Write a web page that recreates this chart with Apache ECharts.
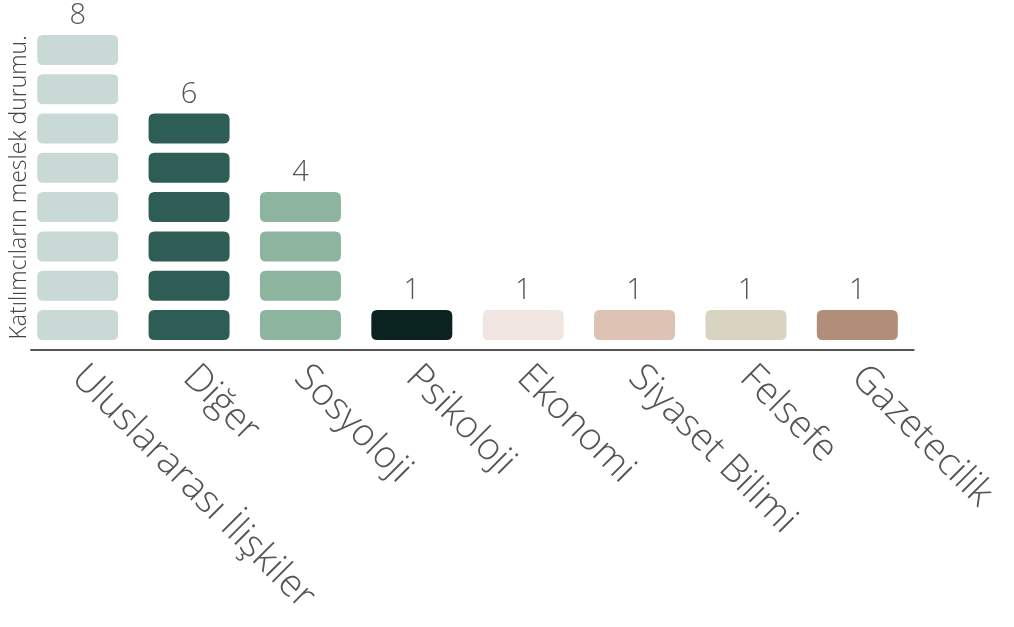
<!DOCTYPE html>
<html><head><meta charset="utf-8">
<script src="https://cdn.jsdelivr.net/npm/echarts@6/dist/echarts.min.js"></script>
<style>html,body{margin:0;padding:0;background:#fff}#c{width:1014px;height:627px}</style>
</head><body><div id="c"></div>
<script>
const categories = ['Uluslararası İlişkiler','Diğer','Sosyoloji','Psikoloji','Ekonomi','Siyaset Bilimi','Felsefe','Gazetecilik'];
const counts = [8, 6, 4, 1, 1, 1, 1, 1];
const colors = ['#c9d9d5','#2e5d56','#8cb49e','#0b2320','#f0e5e0','#dec3b5','#d9d3c1','#b08e79'];
const yName = 'Katılımcıların meslek durumu.';

const FONT = "'Open Sans', sans-serif";
const chart = echarts.init(document.getElementById('c'), null, {renderer:'canvas'});
const rr = 'path://M6,0 H75 Q81,0 81,6 V24 Q81,30 75,30 H6 Q0,30 0,24 V6 Q0,0 6,0 Z';
chart.setOption({
  animation: false,
  grid: [
    {left: 22, right: 101, top: 30.25, bottom: 282.35, outerBoundsMode: 'none', containLabel: false},
    {left: 31, right: 100.3, top: 30, bottom: 277, outerBoundsMode: 'none', containLabel: false}
  ],
  xAxis: [
    {type:'category', data: categories, gridIndex:0,
     axisLine:{show:false}, axisTick:{show:false},
     axisLabel:{rotate:-45, margin:27, color:'#555', fontFamily:FONT, fontWeight:300, fontSize:38, interval:0}},
    {type:'category', data: categories, gridIndex:1,
     axisLine:{show:true, lineStyle:{color:'#555', width:2}}, axisTick:{show:false}, axisLabel:{show:false}}
  ],
  yAxis: [
    {type:'value', gridIndex:0, min:0, max:8, splitLine:{show:false}, axisLine:{show:false}, axisTick:{show:false}, axisLabel:{show:false},
     name: yName, nameLocation:'middle', nameRotate:90, nameGap:-9,
     nameTextStyle:{color:'#444', fontFamily:FONT, fontWeight:300, fontSize:23}},
    {type:'value', gridIndex:1, min:0, max:8, show:false}
  ],
  series: [{
    type:'pictorialBar', xAxisIndex:0, yAxisIndex:0,
    symbol: rr, symbolSize:[81,30], symbolRepeat:true, symbolMargin:'4.9!',
    data: counts.map((v,i)=>({value:v, itemStyle:{color:colors[i]}})),
    label:{show:true, position:'top', distance:0, color:'#555', fontFamily:FONT, fontWeight:300, fontSize:29}
  }]
});
</script></body></html>
